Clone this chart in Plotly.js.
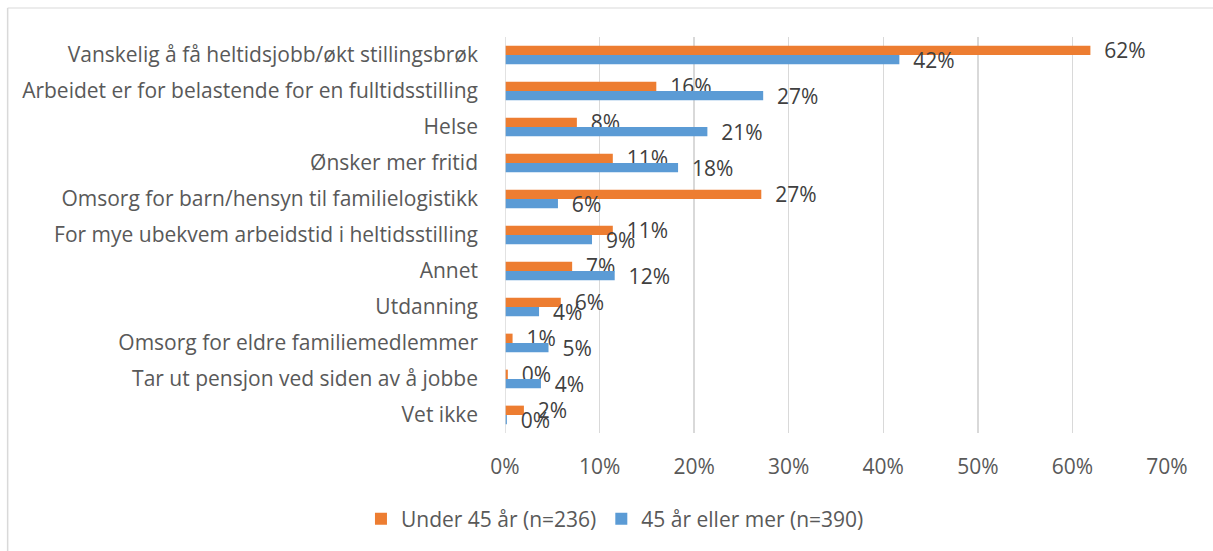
<!DOCTYPE html>
<html>
<head>
<meta charset="utf-8">
<script src="https://cdn.plot.ly/plotly-3.0.1.min.js"></script>
<style>html,body{margin:0;padding:0;background:#fff;}#chart{width:1213px;height:551px;}</style>
</head>
<body>
<div id="chart"></div>
<script>
const categories = [
  "Vanskelig å få heltidsjobb/økt stillingsbrøk",
  "Arbeidet er for belastende for en fulltidsstilling",
  "Helse",
  "Ønsker mer fritid",
  "Omsorg for barn/hensyn til familielogistikk",
  "For mye ubekvem arbeidstid i heltidsstilling",
  "Annet",
  "Utdanning",
  "Omsorg for eldre familiemedlemmer",
  "Tar ut pensjon ved siden av å jobbe",
  "Vet ikke"
];
const under45 = [0.619, 0.160, 0.076, 0.114, 0.271, 0.114, 0.071, 0.059, 0.008, 0.003, 0.020];
const over45  = [0.417, 0.273, 0.214, 0.183, 0.056, 0.092, 0.116, 0.036, 0.046, 0.038, 0.002];
const seriesNames = ["Under 45 år (n=236)", "45 år eller mer (n=390)"];
const xTickVals = [0, 0.1, 0.2, 0.3, 0.4, 0.5, 0.6, 0.7];
const xTickText = ["0%", "10%", "20%", "30%", "40%", "50%", "60%", "70%"];

const FONT = "'Open Sans', Lato, sans-serif";
const FS = 21;
const pad = "\u00a0\u00a0";
function trace(vals, name, color) {
  return {
    type: "bar", orientation: "h",
    y: categories, x: vals, name: name,
    marker: {color: color},
    texttemplate: pad + "%{x:.0%}",
    textposition: "outside",
    constraintext: "none",
    cliponaxis: false,
    textfont: {family: FONT, size: FS, color: "#404040"},
    hoverinfo: "x+y"
  };
}
const data = [
  trace(under45, seriesNames[0], "#ED7D31"),
  trace(over45, seriesNames[1], "#5B9BD5")
];
const L = 504.5, R = 1166.7, T = 37, B = 433;
const W = R - L, H = B - T;
const layout = {
  width: 1213, height: 551,
  margin: {l: L, r: 1213 - R, t: T, b: 551 - B, pad: 0},
  paper_bgcolor: "#fff", plot_bgcolor: "#fff",
  font: {family: FONT, size: FS, color: "#595959"},
  barmode: "group", bargap: 0.48, bargroupgap: 0,
  showlegend: true,
  legend: {orientation: "h", x: (614.5 - L) / W, xanchor: "center", y: (B - 519) / H, yanchor: "middle",
           font: {family: FONT, size: FS, color: "#595959"}, traceorder: "normal", itemwidth: 30},
  xaxis: {range: [0, 0.7], tickvals: xTickVals, ticktext: xTickText, showgrid: true,
          gridcolor: "#D9D9D9", gridwidth: 1.5, zeroline: false, showline: false,
          ticks: "", ticklabelstandoff: 19, tickfont: {family: FONT, size: FS, color: "#595959"}, fixedrange: true},
  yaxis: {type: "category", autorange: "reversed", showgrid: false, zeroline: false, showline: false,
          ticks: "", ticklabelstandoff: 26, tickfont: {family: FONT, size: FS, color: "#595959"}, fixedrange: true},
  shapes: [
    {type: "line", xref: "paper", yref: "paper", x0: (7 - L) / W, x1: (1215 - L) / W, y0: (B - 8) / H, y1: (B - 8) / H, line: {color: "#D9D9D9", width: 1}},
    {type: "line", xref: "paper", yref: "paper", x0: (7 - L) / W, x1: (7 - L) / W, y0: (B - 8) / H, y1: (B - 555) / H, line: {color: "#D9D9D9", width: 1.5}},
    {type: "line", xref: "x", yref: "paper", x0: 0, x1: 0, y0: 0, y1: 1, line: {color: "#D9D9D9", width: 1.5}}
  ]
};
Plotly.newPlot("chart", data, layout, {displayModeBar: false, staticPlot: true});
</script>
</body>
</html>
